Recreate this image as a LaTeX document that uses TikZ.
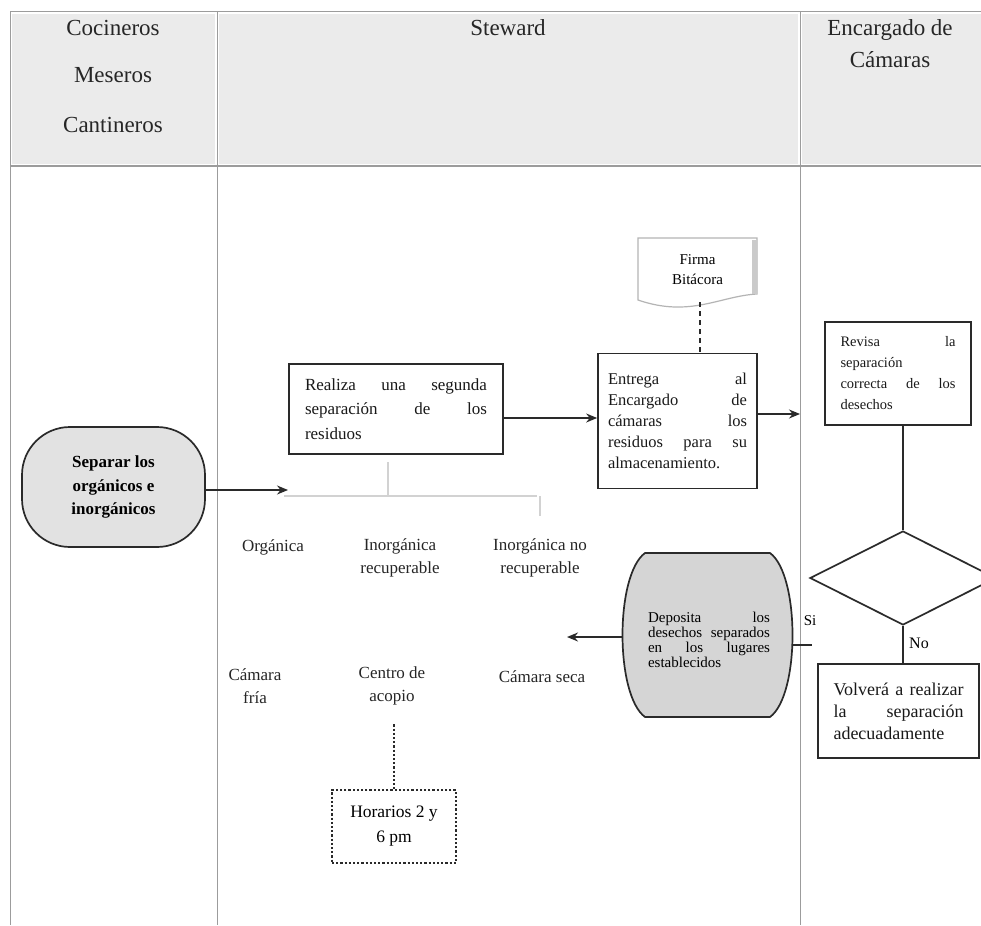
\documentclass[tikz,border=0pt]{standalone}
\usepackage{fontspec}
\setmainfont{Liberation Serif}
\usetikzlibrary{shapes.geometric,arrows.meta}
\definecolor{headfill}{HTML}{EBEBEB}
\definecolor{gridline}{HTML}{9C9C9C}
\definecolor{termfill}{HTML}{E2E2E2}
\definecolor{depfill}{HTML}{D5D5D5}
\definecolor{inkline}{HTML}{2A2A2A}
\definecolor{faintline}{HTML}{D2D2D2}
\definecolor{docline}{HTML}{B4B4B4}
\newcommand{\fsz}[2]{\fontsize{#1}{#2}\selectfont\hyphenpenalty=10000\exhyphenpenalty=10000\relax}

\begin{document}
\begin{tikzpicture}[x=1pt,y=-1pt,
  line/.style={draw=inkline, line width=1.5pt},
  arr/.style={line, -{Stealth[length=11pt,width=9pt]}},
  procbox/.style={draw=inkline, line width=1.7pt, fill=white, align=justify, inner sep=0pt, text=black!90},
  lbl/.style={align=center, font=\fsz{17}{23}, text=black!85, inner sep=0pt},
  hdr/.style={font=\fsz{23}{26}, text=black!85, inner sep=0pt},
  grid/.style={draw=gridline, line width=1pt},
  faint/.style={draw=faintline, line width=1.6pt}]

\clip (0,0) rectangle (981,925);
\useasboundingbox (0,0) rectangle (981,925);
\fill[white] (0,0) rectangle (981,925);

% ---- swimlane table ----
\fill[headfill] (12,14) rectangle (215,164);
\fill[headfill] (219,14) rectangle (798,164);
\fill[headfill] (802,14) rectangle (981,164);
\draw[grid] (10,12) -- (981,12);
\draw[grid, line width=1.4pt] (10,166) -- (981,166);
\draw[grid] (10,12) -- (10,925);
\draw[grid] (217,12) -- (217,925);
\draw[grid] (800,12) -- (800,925);

\node[hdr] (hcoc) at (113,28) {Cocineros};
\node[hdr] (hmes) at (113,75) {Meseros};
\node[hdr] (hcan) at (113,125) {Cantineros};
\node[hdr] (hste) at (508,28) {Steward};
\node[hdr, align=center, font=\fsz{23}{32}] (henc) at (890,44) {Encargado de\\Cámaras};

% ---- first lane: start terminal ----
\node[draw=inkline, line width=1.7pt, fill=termfill, rounded corners=48pt,
      minimum width=183pt, minimum height=120pt, align=center,
      font=\bfseries\fsz{17}{23.5}] (sep) at (113.5,487) {Separar los\\orgánicos e\\inorgánicos};
\coordinate (split) at (288,490);
\draw[arr] (sep.east |- split) -- (split);

% faint sorting branches
\coordinate (brL) at (284,496);
\coordinate (brR) at (537,496);
\coordinate (brM) at (388,462);
\coordinate (brMd) at (388,496);
\coordinate (brRt) at (540,496);
\coordinate (brRd) at (540,516);
\draw[faint] (brL) -- (brR);
\draw[faint] (brM) -- (brMd);
\draw[faint] (brRt) -- (brRd);

% ---- Steward lane ----
\node[procbox, text width=182pt, minimum width=214pt, minimum height=90pt,
      font=\fsz{17}{24.5}] (seg) at (396,409)
  {Realiza una segunda\linebreak separación de los\linebreak residuos};

\node[procbox, text width=139pt, minimum width=159pt, minimum height=135pt,
      font=\fsz{16.5}{21}] (ent) at (677.5,421)
  {Entrega al\linebreak Encargado de\linebreak cámaras los\linebreak residuos para su\linebreak almacenamiento.};

\draw[arr] ([yshift=-9pt]seg.east) -- ([yshift=3pt]ent.west);

% log document
\draw[docline, line width=1.2pt, fill=white]
  (638,238) -- (757,238) -- (757,294)
  .. controls (720,296) and (690,318) .. (638,300) -- cycle;
\fill[docline!70] (752,240) rectangle (757,294);
\node[font=\fsz{15}{20}, align=center, minimum width=119pt, minimum height=64pt,
      inner sep=0pt] (firma) at (697.5,270) {Firma\\Bitácora};
\draw[inkline, line width=1.5pt, dash pattern=on 5pt off 4pt]
  ([xshift=2.5pt]firma.south) -- ([xshift=22.5pt]ent.north);

% categories
\node[lbl] (org) at (273,547) {Orgánica};
\node[lbl] (inr) at (400,558) {Inorgánica\\recuperable};
\node[lbl] (inn) at (540,558) {Inorgánica no\\recuperable};
\node[lbl] (cfr) at (255,686) {Cámara\\fría};
\node[lbl] (cac) at (392,686) {Centro de\\acopio};
\node[lbl] (cse) at (542,677) {Cámara seca};

\node[draw=inkline, line width=2.2pt, dotted, minimum width=124pt, minimum height=73pt,
      align=center, font=\fsz{17.5}{25}, inner sep=0pt] (hor) at (394,826.5)
  {Horarios 2 y\\6 pm};
\draw[inkline, line width=2.2pt, dotted] ([yshift=-19pt]cac.south -| hor.north) -- (hor.north);

% deposit terminal (barrel shape)
\coordinate (depW) at (623,637);
\coordinate (depE) at (792,645);
\draw[draw=inkline, line width=1.7pt, fill=depfill]
  (645,553) -- (770,553) .. controls (800,575) and (800,695) .. (770,717)
  -- (645,717) .. controls (615,695) and (615,575) .. (645,553) -- cycle;
\node[align=justify, text width=122pt, inner sep=0pt, font=\fsz{15}{15}] (dep) at (709,640)
  {Deposita los\linebreak desechos separados\linebreak en los lugares\linebreak establecidos};
\coordinate (toCats) at (567,637);
\draw[arr] (depW) -- (toCats);

% ---- Encargado de Cámaras lane ----
\coordinate (toRev) at (800,414);
\draw[arr] ([yshift=7pt]ent.east) -- (toRev);

\node[procbox, text width=115pt, minimum width=146pt, minimum height=103pt,
      font=\fsz{14.5}{21}] (rev) at (898,373.5)
  {Revisa la\linebreak separación\linebreak correcta de los\linebreak desechos};

\node[draw=inkline, line width=1.7pt, diamond, minimum width=186pt, minimum height=94pt,
      inner sep=0pt] (dec) at (903,578) {};
\draw[line] (rev.south -| dec.north) -- (dec.north);

\node[procbox, text width=130pt, minimum width=161pt, minimum height=94pt,
      font=\fsz{18}{22}] (vol) at (898.5,711)
  {Volverá a realizar\linebreak la separación\linebreak adecuadamente};
\draw[line] (dec.south) -- (dec.south |- vol.north);
\node[font=\fsz{16}{18}, inner sep=0pt] (lno) at (919,643) {No};

\coordinate (siEnd) at (812,645);
\draw[line, line width=1.1pt] (depE) -- (siEnd);
\node[font=\fsz{15}{18}, inner sep=0pt] (lsi) at (810,621) {Si};

\end{tikzpicture}
\end{document}
